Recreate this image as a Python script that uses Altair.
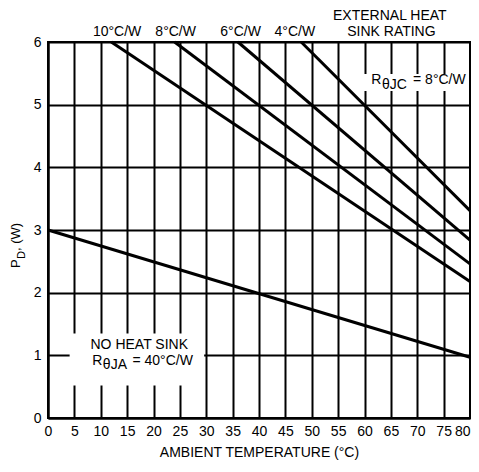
import altair as alt
import pandas as pd

# ---- data ----
ratings = ["10°C/W", "8°C/W", "6°C/W", "4°C/W"]
start_temp = [12, 24, 36, 48]          # ambient temp where each line leaves PD = 6 W
start_pd = [6.0, 6.0, 6.0, 6.0]
end_temp = [80, 80, 80, 80]
end_pd = [2.18, 2.46, 2.84, 3.31]

no_hs_temp = [0, 80]
no_hs_pd = [3.0, 0.97]

x_ticks = list(range(0, 85, 5))
y_ticks = [0, 1, 2, 3, 4, 5, 6]

FONT = "Liberation Sans, Arial"

rows = []
for r, x0, y0, x1, y1 in zip(ratings, start_temp, start_pd, end_temp, end_pd):
    rows.append({"series": r, "t": x0, "pd": y0})
    rows.append({"series": r, "t": x1, "pd": y1})
for t, p in zip(no_hs_temp, no_hs_pd):
    rows.append({"series": "none", "t": t, "pd": p})
lines_df = pd.DataFrame(rows)

xs = alt.Scale(domain=[0, 80], nice=False, zero=False)
ys = alt.Scale(domain=[0, 6], nice=False)

x_axis = alt.Axis(
    values=x_ticks, format="d", grid=True, gridColor="black", gridWidth=2,
    gridOpacity=1, ticks=False, domain=True, domainColor="black", domainWidth=2,
    labelFont=FONT, labelFontSize=14, labelColor="black", labelPadding=6,
    labelFlush=False, labelOverlap=False,
    labelAlign={"condition": {"test": "datum.value >= 80", "value": "right"},
                "value": "center"},
    title="AMBIENT TEMPERATURE (°C)", titleFont=FONT, titleFontSize=14,
    titleFontWeight="normal", titleColor="black", titlePadding=7)
y_axis = alt.Axis(
    values=y_ticks, format="d", grid=True, gridColor="black", gridWidth=2,
    gridOpacity=1, ticks=False, domain=True, domainColor="black", domainWidth=2,
    labelFont=FONT, labelFontSize=14, labelColor="black", labelPadding=7,
    labelFlush=False, labelOverlap=False, title=None)

lines = alt.Chart(lines_df).mark_line(color="black", strokeWidth=3, clip=False).encode(
    x=alt.X("t:Q", scale=xs, axis=x_axis),
    y=alt.Y("pd:Q", scale=ys, axis=y_axis),
    detail="series:N",
)

# white boxes behind the inside annotations (gridlines break there)
boxes_df = pd.DataFrame({
    "x1": [4.1, 59.4], "x2": [29.6, 79.1],
    "y1": [0.52, 5.22], "y2": [1.35, 5.49],
})
boxes = alt.Chart(boxes_df).mark_rect(color="white").encode(
    x=alt.X("x1:Q", scale=xs, axis=x_axis), x2="x2:Q",
    y=alt.Y("y1:Q", scale=ys, axis=y_axis), y2="y2:Q",
)

# annotation text (positions in data units)
center_df = pd.DataFrame([
    {"x": 13.1, "y": 6.16, "text": "10°C/W"},
    {"x": 24.2, "y": 6.16, "text": "8°C/W"},
    {"x": 36.5, "y": 6.16, "text": "6°C/W"},
    {"x": 46.8, "y": 6.16, "text": "4°C/W"},
    {"x": 64.8, "y": 6.41, "text": "EXTERNAL HEAT"},
    {"x": 65.1, "y": 6.165, "text": "SINK RATING"},
    {"x": 17.3, "y": 1.16, "text": "NO HEAT SINK"},
])
left_df = pd.DataFrame([
    {"x": 61.3, "y": 5.40, "text": "R"},
    {"x": 63.3, "y": 5.32, "text": "θJC"},
    {"x": 69.2, "y": 5.40, "text": "= 8°C/W"},
    {"x": 8.4, "y": 0.905, "text": "R"},
    {"x": 10.4, "y": 0.84, "text": "θJA"},
    {"x": 16.0, "y": 0.905, "text": "= 40°C/W"},
])


def text_layer(df, align):
    return alt.Chart(df).mark_text(
        font=FONT, fontSize=14, color="black", baseline="middle", align=align
    ).encode(
        x=alt.X("x:Q", scale=xs, axis=x_axis),
        y=alt.Y("y:Q", scale=ys, axis=y_axis),
        text="text:N",
    )


ann_c = text_layer(center_df, "center")
ann_l = text_layer(left_df, "left")

# y-axis title with subscript D, drawn as rotated text (pixel placement)
ytitle_df = pd.DataFrame([
    {"px": -28, "py": 226, "text": "P", "size": 13},
    {"px": -23, "py": 217, "text": "D", "size": 11},
    {"px": -28, "py": 209, "text": ", (W)", "size": 13},
])
ytitle = alt.Chart(ytitle_df).mark_text(
    font=FONT, color="black", angle=270, align="left", baseline="alphabetic"
).encode(
    x=alt.X("px:Q", scale=None), y=alt.Y("py:Q", scale=None),
    text="text:N",
    size=alt.Size("size:Q", scale=None, legend=None),
)

chart = alt.layer(lines, boxes, ann_c, ann_l, ytitle).properties(
    width=422, height=376,
    autosize=alt.AutoSizeParams(type="none"),
    padding={"left": 40, "top": 34, "right": 1, "bottom": 46},
    background="white",
).configure_view(stroke="black", strokeWidth=2)

chart.save("out.html", embed_options={"renderer": "svg", "actions": False})
